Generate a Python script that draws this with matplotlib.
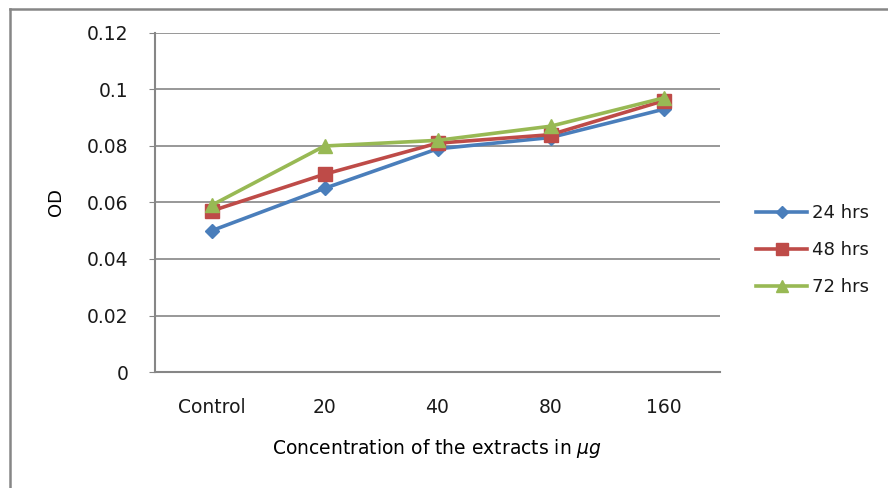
import matplotlib
matplotlib.use("Agg")
import matplotlib.pyplot as plt
from matplotlib.lines import Line2D

# data
categories = ["Control", "20", "40", "80", "160"]
od_24 = [0.050, 0.065, 0.079, 0.083, 0.093]
od_48 = [0.057, 0.070, 0.081, 0.084, 0.096]
od_72 = [0.059, 0.080, 0.082, 0.087, 0.097]
y_ticks = [0, 0.02, 0.04, 0.06, 0.08, 0.1, 0.12]
y_tick_labels = ["0", "0.02", "0.04", "0.06", "0.08", "0.1", "0.12"]

plt.rcParams["font.family"] = ["DejaVu Sans"]
plt.rcParams["text.color"] = "#1a1a1a"
plt.rcParams["xtick.labelcolor"] = "#1a1a1a"
plt.rcParams["ytick.labelcolor"] = "#1a1a1a"

W, H = 888, 488
fig = plt.figure(figsize=(W / 100, H / 100), dpi=100)
ax = fig.add_axes([155 / W, 1 - 372 / H, (720 - 155) / W, (372 - 33) / H])

grey = "#868686"
x = list(range(len(categories)))

ax.plot(x, od_24, color="#4A7EBB", linewidth=2.6, marker="D", markersize=7,
        label="24 hrs", zorder=3)
ax.plot(x, od_48, color="#BE4B48", linewidth=2.6, marker="s", markersize=10,
        label="48 hrs", zorder=4)
ax.plot(x, od_72, color="#98B954", linewidth=2.6, marker="^", markersize=10,
        label="72 hrs", zorder=5)

ax.set_xlim(-0.5, len(categories) - 0.5)
ax.set_ylim(0, 0.12)
ax.set_yticks(y_ticks)
ax.set_yticklabels(y_tick_labels)
ax.set_xticks(x)
ax.set_xticklabels(categories)
ax.tick_params(axis="x", length=0, pad=19, labelsize=13.5)
ax.tick_params(axis="y", length=4, color=grey, pad=15, labelsize=13.5)
ax.yaxis.grid(True, color=grey, linewidth=1.2)
ax.set_axisbelow(True)

for side in ["top", "right"]:
    ax.spines[side].set_visible(False)
for side in ["left", "bottom"]:
    ax.spines[side].set_color(grey)
    ax.spines[side].set_linewidth(1.5)

ax.set_ylabel("OD", fontsize=13, labelpad=16)
ax.set_xlabel(r"Concentration of the extracts in $\mu g$", fontsize=13.5, labelpad=14)

leg = ax.legend(loc="center left", bbox_to_anchor=(740 / W, 1 - 250 / H),
                bbox_transform=fig.transFigure, frameon=False, fontsize=13,
                handlelength=2.8, labelspacing=1.05, handletextpad=0.3)
for h, ms in zip(leg.legend_handles, [6, 8, 8]):
    h.set_markersize(ms)

# outer chart border (only top and left visible in the reference)
fig.add_artist(Line2D([10 / W, 10 / W], [0, 1 - 8.5 / H], color=grey, linewidth=1.8,
                      transform=fig.transFigure))
fig.add_artist(Line2D([10 / W, 1], [1 - 8.5 / H, 1 - 8.5 / H], color=grey, linewidth=1.8,
                      transform=fig.transFigure))

fig.savefig("out.png", dpi=100)
